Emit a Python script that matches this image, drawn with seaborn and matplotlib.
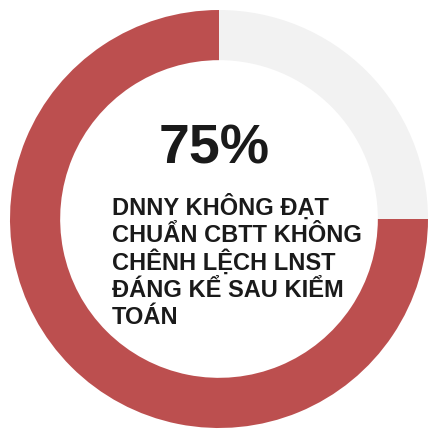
import matplotlib
matplotlib.use("Agg")
import matplotlib.pyplot as plt
import seaborn as sns

# data
labels = ["Không đạt chuẩn", "Còn lại"]
values = [75, 25]
colors = ["#bc4f4f", "#f2f2f2"]
big_label = "75%"
caption_lines = ["DNNY KHÔNG ĐẠT", "CHUẨN CBTT KHÔNG", "CHÊNH LỆCH LNST",
                 "ĐÁNG KỂ SAU KIỂM", "TOÁN"]

sns.set_theme(style="white")
plt.rcParams["font.family"] = ["Liberation Sans", "DejaVu Sans"]

W, H = 428, 429
fig = plt.figure(figsize=(W / 100, H / 100), dpi=100)
ax = fig.add_axes([0, 0, 1, 1])

# donut: centre at (219, 219) px from top-left, radius 209 px
r = 209
cx, cy = 219, 219
ax.pie(values, colors=colors, startangle=90, counterclock=True,
       radius=1, wedgeprops=dict(width=0.24, edgecolor="none"))
ax.set_aspect("auto")
ax.set_xlim(-cx / r, (W - cx) / r)
ax.set_ylim(-(H - cy) / r, cy / r)
ax.axis("off")

fig.text(214 / W, 1 - 150 / H, big_label, ha="center", va="center",
         fontsize=40, fontweight="bold", color="#1a1a1a")

y0 = 215
for i, line in enumerate(caption_lines):
    fig.text(112 / W, 1 - (y0 + i * 27.3) / H, line, ha="left", va="baseline",
             fontsize=17, fontweight="bold", color="#1a1a1a")

fig.savefig("out.png", dpi=100)
